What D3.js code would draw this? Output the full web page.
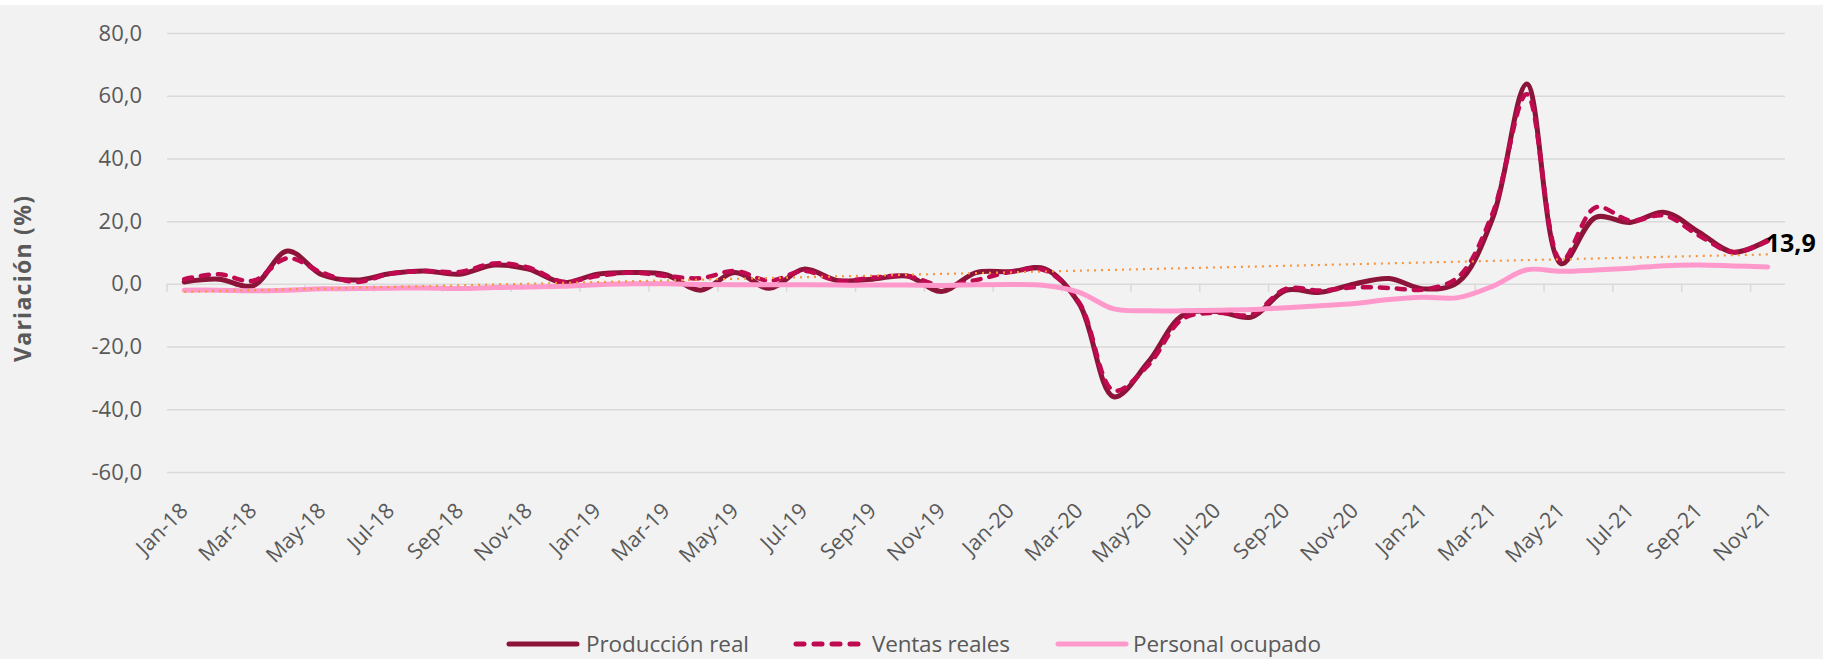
<!DOCTYPE html>
<html>
<head>
<meta charset="utf-8">
<script src="https://cdn.jsdelivr.net/npm/d3@7"></script>
<style>
  body { margin: 0; background: #fff; }
  svg { display: block; font-family: "Open Sans", "Noto Sans", sans-serif; }
</style>
</head>
<body>
<svg id="chart" width="1823" height="659"></svg>
<script>
// months on the category axis
var months = ["Jan-18","Feb-18","Mar-18","Apr-18","May-18","Jun-18","Jul-18","Aug-18","Sep-18","Oct-18","Nov-18","Dec-18",
  "Jan-19","Feb-19","Mar-19","Apr-19","May-19","Jun-19","Jul-19","Aug-19","Sep-19","Oct-19","Nov-19","Dec-19",
  "Jan-20","Feb-20","Mar-20","Apr-20","May-20","Jun-20","Jul-20","Aug-20","Sep-20","Oct-20","Nov-20","Dec-20",
  "Jan-21","Feb-21","Mar-21","Apr-21","May-21","Jun-21","Jul-21","Aug-21","Sep-21","Oct-21","Nov-21"];

// series, % variation
var produccion = [0.6, 1.5, -0.6, 10.5, 2.9, 1.2, 3.3, 4.1, 3.1, 6.0, 4.7, 0.4,
  3.1, 3.6, 2.9, -2.0, 3.6, -1.4, 4.7, 1.0, 1.5, 2.5, -2.4, 3.6,
  3.9, 4.8, -6.4, -36.0, -25.0, -10.1, -8.8, -10.6, -2.1, -2.7, 0.0, 1.7,
  -1.6, 0.5, 20.7, 63.7, 6.4, 21.2, 19.6, 22.8, 16.5, 10.1, 13.9];
var ventas = [1.5, 3.1, 1.0, 8.2, 3.6, 0.6, 3.3, 4.1, 3.8, 6.5, 5.2, 0.7,
  2.5, 3.6, 2.5, 1.8, 4.1, 1.0, 4.1, 1.0, 2.0, 2.5, -0.5, 1.2,
  3.8, 4.3, -6.0, -34.0, -26.0, -11.2, -9.2, -9.8, -1.6, -2.1, -1.1, -1.3,
  -1.8, 2.1, 22.3, 60.5, 7.4, 24.4, 20.2, 21.8, 15.4, 10.1, 13.7];
var personal = [-2.0, -2.0, -2.2, -2.0, -1.6, -1.5, -1.4, -1.3, -1.5, -1.2, -1.0, -0.8,
  -0.3, 0.0, 0.0, -0.2, -0.3, -0.3, -0.3, -0.4, -0.4, -0.4, -0.5, -0.3,
  -0.2, -0.5, -2.7, -8.0, -8.6, -8.6, -8.4, -8.2, -7.6, -7.0, -6.3, -5.0,
  -4.3, -4.4, -0.8, 4.5, 4.0, 4.4, 5.0, 5.8, 6.0, 5.7, 5.4];

var yTicks = [-60, -40, -20, 0, 20, 40, 60, 80];
var seriesNames = ["Producción real", "Ventas reales", "Personal ocupado"];

var svg = d3.select("#chart");
var W = 1823, H = 659;
var plotL = 167, plotR = 1785, plotT = 33, plotB = 472;
var grey = "#595959";
var cProd = "#8c1439", cVen = "#bf0a50", cPer = "#ff99cc", cTrend = "#f7963c";

// background
svg.append("rect").attr("width", W).attr("height", H).attr("fill", "#fff");
svg.append("rect").attr("y", 5).attr("width", W).attr("height", H - 5).attr("fill", "#f2f2f2");

var x = d3.scaleBand().domain(months).range([plotL, plotR]).padding(0);
var cx = function(m) { return x(m) + x.bandwidth() / 2; };
var y = d3.scaleLinear().domain([-60, 80]).range([plotB, plotT]);

var loc = d3.formatLocale({decimal: ",", thousands: ".", grouping: [3], currency: ["", ""], minus: "-"});
var fmt = loc.format(".1f");

// gridlines + y labels
var yAxis = svg.append("g")
  .attr("transform", "translate(" + plotL + ",0)")
  .call(d3.axisLeft(y).tickValues(yTicks).tickSize(-(plotR - plotL)).tickPadding(25).tickFormat(fmt));
yAxis.select(".domain").remove();
yAxis.selectAll(".tick line").attr("stroke", "#d9d9d9").attr("stroke-width", 1.5);
yAxis.selectAll(".tick text").attr("fill", grey).attr("font-size", 22).attr("font-family", "Open Sans");

// tick marks on the zero line, every two categories
var tickMonths = months.filter(function(d, i) { return i % 2 === 0; });
svg.append("g").selectAll("line").data(tickMonths).join("line")
  .attr("x1", function(d) { return x(d); }).attr("x2", function(d) { return x(d); })
  .attr("y1", y(0)).attr("y2", y(0) + 8)
  .attr("stroke", "#d9d9d9").attr("stroke-width", 1.5);

// x labels
svg.append("g").selectAll("text").data(tickMonths).join("text")
  .attr("transform", function(d) { return "translate(" + (cx(d) + 5) + "," + 512 + ") rotate(-45)"; })
  .attr("text-anchor", "end")
  .attr("fill", grey).attr("font-size", 21.5)
  .text(function(d) { return d; });

// y title
svg.append("text")
  .attr("transform", "translate(31,279) rotate(-90)")
  .attr("text-anchor", "middle")
  .attr("fill", grey).attr("font-size", 23).attr("font-weight", "bold")
  .attr("textLength", 166).attr("lengthAdjust", "spacing")
  .text("Variación (%)");

var line = d3.line()
  .x(function(d, i) { return cx(months[i]); })
  .y(function(d) { return y(d); })
  .curve(d3.curveCatmullRom.alpha(0.5));

svg.append("path").datum(produccion).attr("d", line)
  .attr("fill", "none").attr("stroke", cProd).attr("stroke-width", 5).attr("stroke-linecap", "round");
svg.append("path").datum(ventas).attr("d", line)
  .attr("fill", "none").attr("stroke", cVen).attr("stroke-width", 4.5)
  .attr("stroke-dasharray", "8,9").attr("stroke-linecap", "round");
svg.append("path").datum(personal).attr("d", line)
  .attr("fill", "none").attr("stroke", cPer).attr("stroke-width", 5).attr("stroke-linecap", "round");

// linear trend of producción real
var n = produccion.length;
var mx = d3.mean(produccion, function(d, i) { return i; });
var my = d3.mean(produccion);
var sxy = d3.sum(produccion, function(d, i) { return (i - mx) * (d - my); });
var sxx = d3.sum(produccion, function(d, i) { return (i - mx) * (i - mx); });
var slope = sxy / sxx, icpt = my - slope * mx;
svg.append("line")
  .attr("x1", cx(months[0])).attr("y1", y(icpt))
  .attr("x2", cx(months[n - 1])).attr("y2", y(icpt + slope * (n - 1)))
  .attr("stroke", cTrend).attr("stroke-width", 2.2).attr("stroke-dasharray", "2,5");

// last value label
svg.append("text")
  .attr("x", cx(months[n - 1]) - 2).attr("y", 252)
  .attr("font-size", 25).attr("font-weight", "bold").attr("fill", "#000")
  .text(fmt(produccion[n - 1]));

// legend
var legend = [
  {name: seriesNames[0], color: cProd, dash: null, x0: 507, tx: 586, tl: 163},
  {name: seriesNames[1], color: cVen, dash: "8,10", x0: 794, tx: 872, tl: 138},
  {name: seriesNames[2], color: cPer, dash: null, x0: 1056, tx: 1133, tl: 188}
];
var lg = svg.append("g").selectAll("g").data(legend).join("g");
lg.append("line")
  .attr("x1", function(d) { return d.x0 + 2; }).attr("x2", function(d) { return d.x0 + 70; })
  .attr("y1", 644).attr("y2", 644)
  .attr("stroke", function(d) { return d.color; }).attr("stroke-width", 5)
  .attr("stroke-linecap", "round")
  .attr("stroke-dasharray", function(d) { return d.dash; });
lg.append("text")
  .attr("x", function(d) { return d.tx; }).attr("y", 652)
  .attr("fill", grey).attr("font-size", 22.5)
  .attr("textLength", function(d) { return d.tl; }).attr("lengthAdjust", "spacing")
  .text(function(d) { return d.name; });
</script>
</body>
</html>
